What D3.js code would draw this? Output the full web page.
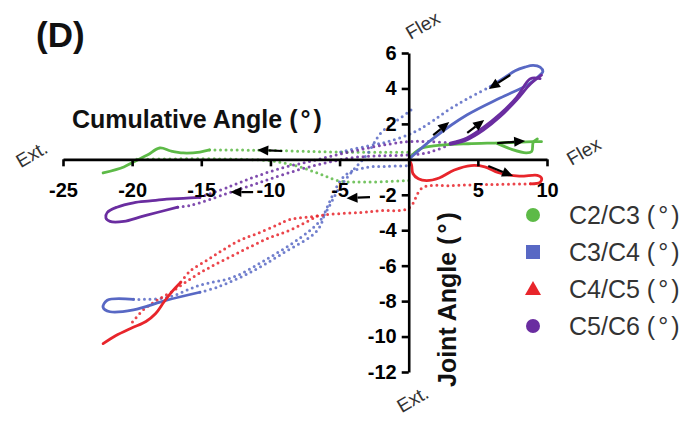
<!DOCTYPE html>
<html><head><meta charset="utf-8">
<script src="https://cdn.jsdelivr.net/npm/d3@7"></script>
<style>
html,body{margin:0;padding:0;background:#fff;}
svg{display:block;font-family:"Liberation Sans",Arial,sans-serif;}
</style></head>
<body><svg id="chart" width="692" height="421"></svg>
<script>
// ---------- data ----------
const categories = ["C2/C3", "C3/C4", "C4/C5", "C5/C6"];
const seriesColors = ["#5dba47", "#5868c4", "#e8252b", "#6a2da0"];
const xTickValues = [-25, -20, -15, -10, -5, 0, 5, 10];
const xTickLabels = ["-25", "-20", "-15", "-10", "-5", "", "5", "10"];
const yTickValues = [6, 4, 2, 0, -2, -4, -6, -8, -10, -12];
const yTickLabels = ["6", "4", "2", "", "-2", "-4", "-6", "-8", "-10", "-12"];

// C2/C3
const c2c3Solid = [
  [[-22.1,-0.77],[-20.6,-0.43],[-19.9,-0.15],[-18.9,0.24],[-18,0.64],[-17.2,0.47],[-16.3,0.36],[-15.1,0.41],[-14.4,0.53]],
  [[0,0],[0.4,0.35],[0.9,0.62],[1.8,0.76],[4.3,0.88],[6.6,0.93],[9.0,1.0],[9.6,1.0]],
  [[6.4,0.9],[7.5,0.55],[8.5,0.37],[8.9,0.45],[9.0,0.95],[9.3,1.15]]
];
const c2c3Dotted = [
  [[-14.4,0.53],[-12,0.52],[-10,0.5],[-7,0.44],[-4,0.4],[-1.5,0.4],[0,0.4]],
  [[0,-1.2],[-3,-1.28],[-5,-1.22],[-6.5,-0.8],[-8,-0.4],[-9.8,-0.1],[-12,0],[-15,0.03],[-19.9,0]]
];
// C3/C4
const c3c4Solid = [
  [[0,0],[1.8,1.2],[4.2,2.5],[6.6,3.46],[8.6,4.2],[9.5,4.76],[9.7,4.95],[9.5,5.2],[9.0,5.3],[8.4,5.2],[7.7,5.0],[7.0,4.65],[5.9,4.1]],
  [[-15.1,-7.5],[-17.5,-7.95],[-19.9,-8.5],[-21.6,-8.6],[-22.1,-8.35],[-21.8,-7.95],[-19.9,-7.9]]
];
const c3c4Dotted = [
  [[5.9,4.1],[4.2,3.4],[3,2.85],[1.8,2.2],[0.8,1.7],[0,1.4],[-1.5,1.0],[-3,0.75],[-5,0.4]],
  [[-19.9,-7.9],[-17.5,-7.8],[-15.1,-7.1],[-12.7,-6.65],[-10.2,-5.6],[-7.8,-4.4],[-6.4,-3.45],[-5,-1.6],[-4,-0.6],[-3,0.3],[-2,1.5],[-1,2.1],[0.2,2.8]],
  [[-15.1,-7.5],[-13.8,-7.2],[-11.5,-6.4],[-9.1,-5.3],[-6.6,-4.0],[-5.9,-2.7],[-4.6,-0.9],[-3,-0.45],[-1.5,-0.4],[0,-0.35]]
];
// C4/C5
const c4c5Solid = [
  [[0,0],[0.2,-0.3],[0.3,-0.8],[0.7,-1.1],[1.3,-1.2],[2.2,-1.05],[3.3,-0.6],[4.5,-0.35],[5.5,-0.42],[6.5,-0.75],[8,-0.95],[9.3,-0.9],[9.6,-1.05],[9.5,-1.3],[8.8,-1.38]],
  [[-22.1,-10.4],[-21.2,-9.95],[-20,-9.5],[-19,-9.15],[-18.3,-8.7],[-17.7,-8.05],[-17.1,-7.45],[-16.5,-6.95]]
];
const c4c5Dotted = [
  [[8.8,-1.38],[6,-1.42],[3,-1.48],[1,-1.6],[0,-2.75],[-2,-2.9],[-3.5,-3.0],[-5.7,-3.1],[-6.6,-3.2],[-8.6,-3.4],[-9.5,-3.7],[-11,-4.2],[-12.2,-4.56],[-13.4,-5.1],[-14.6,-5.7],[-15.8,-6.3],[-16.5,-6.95]],
  [[-6.6,-3.2],[-8.6,-4.0],[-10,-4.4],[-11.5,-4.95],[-12.9,-5.5],[-14.4,-6.1],[-15.6,-6.65],[-17,-7.4],[-18.2,-7.95],[-19.2,-8.5],[-20.1,-9.3]]
];
// C5/C6
const c5c6Solid = [
  [[9.6,4.75],[8.8,4.25],[7.8,3.35],[6.6,2.4],[5.4,1.65],[4.2,1.1],[3,0.85]],
  [[9.5,4.55],[8.8,4.55],[7.8,3.5],[6.6,2.55],[5.4,1.8],[4.2,1.2],[3,0.92]],
  [[-15.1,-2.15],[-16.3,-2.2],[-17.5,-2.25],[-18.7,-2.35],[-19.9,-2.45],[-21.1,-2.7],[-21.8,-3.0],[-21.9,-3.3],[-21.6,-3.5],[-20.6,-3.5],[-19.4,-3.25],[-18.2,-3.0],[-16.7,-2.7]]
];
const c5c6Dotted = [
  [[-15.1,-2.15],[-13,-1.55],[-11,-0.95],[-9,-0.45],[-7.3,-0.15],[-5.5,0.2],[-3.5,0.55],[-1.5,0.85],[0,1.0],[1.5,1.0],[3,0.92]],
  [[-16.7,-2.7],[-15.8,-2.6],[-13.4,-2.0],[-11.5,-1.5],[-10,-1.1],[-8,-0.6],[-6,-0.2],[-4,0.1],[-2,0.2],[0,0.25],[1.5,0.4],[3,0.85]]
];
const solidSets = [c2c3Solid, c3c4Solid, c4c5Solid, c5c6Solid];
const dottedSets = [c2c3Dotted, c3c4Dotted, c4c5Dotted, c5c6Dotted];

// direction arrows: [x1, y1, x2, y2] in data units (tail -> head)
const arrows = [
  [-9.15,0.47,-10.95,0.53],
  [-11.25,-1.85,-12.9,-1.85],
  [-2.8,-2.13,-4.5,-2.19],
  [7.34,4.76,5.8,3.97],
  [1.77,1.37,2.93,2.1],
  [4.23,1.49,5.46,2.22],
  [6.4,0.92,8.42,1.03],
  [5.75,-0.38,7.55,-0.94]
];

// ---------- drawing ----------
const svg = d3.select("#chart");
const x = d3.scaleLinear().domain([-25, 10]).range([63, 547]);
const y = d3.scaleLinear().domain([-12, 6]).range([372, 53]);

const line = d3.line().x(d => x(d[0])).y(d => y(d[1])).curve(d3.curveCatmullRom.alpha(0.5));

// series
const gData = svg.append("g");
dottedSets.forEach((set, i) => {
  set.forEach(pts => {
    gData.append("path").attr("d", line(pts)).attr("fill", "none")
      .attr("stroke", seriesColors[i]).attr("stroke-width", 3)
      .attr("stroke-linecap", "round").attr("stroke-dasharray", "0,5.5").attr("opacity", 0.85);
  });
});
solidSets.forEach((set, i) => {
  set.forEach(pts => {
    gData.append("path").attr("d", line(pts)).attr("fill", "none")
      .attr("stroke", seriesColors[i]).attr("stroke-width", 2.8)
      .attr("stroke-linejoin", "round").attr("stroke-linecap", "round");
  });
});

// axes
const xAxis = d3.axisBottom(x).tickValues(xTickValues)
  .tickFormat((d, i) => xTickLabels[i]).tickSize(7).tickSizeOuter(0).tickPadding(16);
const gx = svg.append("g").attr("transform", `translate(0,${y(0)})`).call(xAxis);
gx.select(".domain").attr("stroke", "#000").attr("stroke-width", 2.6);
gx.selectAll(".tick line").attr("stroke", "#000").attr("stroke-width", 2.6);
gx.selectAll(".tick text").attr("fill", "#000").attr("font-size", 20).attr("font-weight", "bold")
  .attr("font-family", "Liberation Sans, Arial, sans-serif");

const yAxis = d3.axisLeft(y).tickValues(yTickValues)
  .tickFormat((d, i) => yTickLabels[i]).tickSize(7).tickSizeOuter(0).tickPadding(5);
const gy = svg.append("g").attr("transform", `translate(${x(0)},0)`).call(yAxis);
gy.select(".domain").attr("stroke", "#000").attr("stroke-width", 2.6);
gy.selectAll(".tick line").attr("stroke", "#000").attr("stroke-width", 2.6)
  .attr("display", d => d === 0 ? "none" : null);
gy.selectAll(".tick text").attr("fill", "#000").attr("font-size", 20).attr("font-weight", "bold")
  .attr("font-family", "Liberation Sans, Arial, sans-serif");

// arrows
const gArr = svg.append("g");
arrows.forEach(a => {
  const x1 = x(a[0]), y1 = y(a[1]), x2 = x(a[2]), y2 = y(a[3]);
  const ang = Math.atan2(y2 - y1, x2 - x1);
  const L = 11, W = 5;
  const bx = x2 - L * Math.cos(ang), by = y2 - L * Math.sin(ang);
  gArr.append("line").attr("x1", x1).attr("y1", y1).attr("x2", bx).attr("y2", by)
    .attr("stroke", "#000").attr("stroke-width", 2.2);
  const p = [[x2, y2],
    [bx + W * Math.sin(ang), by - W * Math.cos(ang)],
    [bx - W * Math.sin(ang), by + W * Math.cos(ang)]];
  gArr.append("polygon").attr("points", p.map(q => q.join(",")).join(" ")).attr("fill", "#000");
});

// helper: text ending in a spaced "(°)"
function degText(sel, base) {
  sel.append("tspan").text(base + " (");
  sel.append("tspan").attr("dx", 3).text("°");
  sel.append("tspan").attr("dx", 3).text(")");
  return sel;
}

// titles
svg.append("text").attr("x", 36).attr("y", 47).attr("font-size", 35).attr("font-weight", "bold")
  .attr("fill", "#111").text("(D)");
degText(svg.append("text").attr("x", 72).attr("y", 128).attr("font-size", 25).attr("font-weight", "bold")
  .attr("fill", "#111"), "Cumulative Angle");
degText(svg.append("text").attr("transform", "translate(456,387) rotate(-90)").attr("font-size", 25)
  .attr("font-weight", "bold").attr("fill", "#111"), "Joint Angle");

// direction labels
const dirLabels = [
  {t: "Ext.", x: 35, y: 160},
  {t: "Flex", x: 426, y: 31},
  {t: "Flex", x: 587, y: 157},
  {t: "Ext.", x: 416, y: 405}
];
dirLabels.forEach(d => {
  svg.append("text").attr("transform", `translate(${d.x},${d.y}) rotate(-30)`)
    .attr("text-anchor", "middle").attr("font-size", 19).attr("fill", "#333").text(d.t);
});

// legend
const legendY = [215, 252, 289, 326];
const gL = svg.append("g");
categories.forEach((c, i) => {
  const cx = 533, cy = legendY[i], col = seriesColors[i];
  if (i === 0 || i === 3) {
    gL.append("circle").attr("cx", cx).attr("cy", cy).attr("r", 7).attr("fill", col);
  } else if (i === 1) {
    gL.append("rect").attr("x", cx - 7).attr("y", cy - 7).attr("width", 14).attr("height", 14).attr("fill", col);
  } else {
    gL.append("path").attr("d", `M${cx},${cy - 8}L${cx + 8},${cy + 6}L${cx - 8},${cy + 6}Z`).attr("fill", col);
  }
  degText(gL.append("text").attr("x", 569).attr("y", cy + 9).attr("font-size", 25).attr("fill", "#333"), c);
});
</script></body></html>
